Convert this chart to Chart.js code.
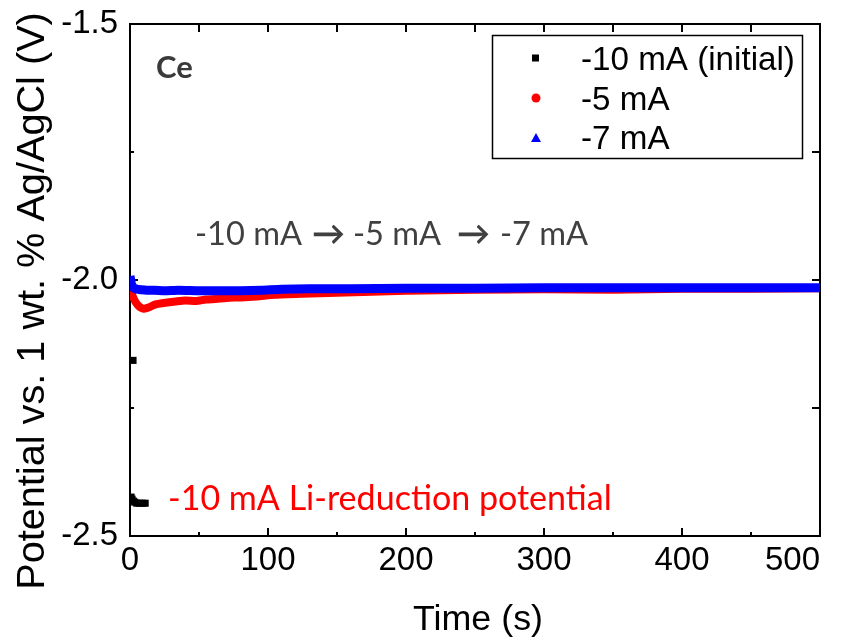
<!DOCTYPE html>
<html>
<head>
<meta charset="utf-8">
<script src="https://cdn.jsdelivr.net/npm/chart.js@4.4.1/dist/chart.umd.min.js"></script>
<style>
  html, body { margin: 0; padding: 0; background: #fff; }
</style>
</head>
<body>
<canvas id="chart" width="851" height="638"></canvas>
<script>
// axis ticks
const xTicks = [0, 100, 200, 300, 400, 500];
const xMinor = [50, 150, 250, 350, 450];
const yTicks = [-2.5, -2.0, -1.5];
const yMinor = [-2.25, -1.75];

const seriesNames = ["-10 mA (initial)", "-5 mA", "-7 mA"];

// -10 mA (initial)
const initTime = [0.8, 1.5, 2.2, 2.5, 3.5, 5, 7, 9, 11];
const initVolt = [-2.424, -2.428, -2.157, -2.432, -2.434, -2.436, -2.436, -2.436, -2.436];

// -5 mA
const time5 = [0, 1, 2, 4, 6, 8, 10, 12, 15, 18, 22, 27, 33, 40, 48, 55, 62, 70, 80, 92, 105, 125, 150, 175, 200, 250, 300, 350, 400, 450, 500];
const volt5 = [-2.012, -2.022, -2.032, -2.043, -2.050, -2.054, -2.056, -2.055, -2.052, -2.048, -2.046, -2.044, -2.042, -2.040, -2.041, -2.038, -2.037, -2.035, -2.034, -2.032, -2.029, -2.027, -2.025, -2.023, -2.021, -2.019, -2.018, -2.019, -2.017, -2.017, -2.016];

// -7 mA
const time7 = [0, 0.5, 1, 2, 3, 5, 8, 12, 18, 25, 35, 50, 65, 80, 95, 110, 130, 160, 200, 250, 300, 350, 400, 450, 500];
const volt7 = [-1.992, -2.000, -2.008, -2.013, -2.016, -2.018, -2.019, -2.020, -2.020, -2.021, -2.020, -2.021, -2.021, -2.021, -2.020, -2.018, -2.017, -2.017, -2.016, -2.016, -2.015, -2.015, -2.015, -2.015, -2.015];

const pts = (xs, ys) => xs.map((x, i) => ({ x, y: ys[i] }));

// shrink/grow a font so a string fills a given width
function fitFont(ctx, text, weight, family, nominal, width) {
  ctx.font = weight + " " + nominal + "px " + family;
  const w = ctx.measureText(text).width;
  const size = nominal * width / w;
  ctx.font = weight + " " + size.toFixed(2) + "px " + family;
}

/* frame, inward ticks, legend and notes */
const decor = {
  id: "decor",
  beforeDatasetsDraw(chart) {
    const { ctx, chartArea: a, scales } = chart;
    const xs = scales.x, ys = scales.y;
    ctx.save();
    ctx.strokeStyle = "#000";
    ctx.lineWidth = 2;
    ctx.strokeRect(a.left, a.top, a.right - a.left, a.bottom - a.top);
    ctx.beginPath();
    xTicks.forEach((v) => {
      const p = xs.getPixelForValue(v);
      ctx.moveTo(p, a.bottom); ctx.lineTo(p, a.bottom - 8);
      ctx.moveTo(p, a.top); ctx.lineTo(p, a.top + 8);
    });
    xMinor.forEach((v) => {
      const p = xs.getPixelForValue(v);
      ctx.moveTo(p, a.bottom); ctx.lineTo(p, a.bottom - 4);
      ctx.moveTo(p, a.top); ctx.lineTo(p, a.top + 8);
    });
    yTicks.forEach((v) => {
      const p = ys.getPixelForValue(v);
      ctx.moveTo(a.left, p); ctx.lineTo(a.left + 8, p);
      ctx.moveTo(a.right, p); ctx.lineTo(a.right - 8, p);
    });
    yMinor.forEach((v) => {
      const p = ys.getPixelForValue(v);
      ctx.moveTo(a.left, p); ctx.lineTo(a.left + 4, p);
      ctx.moveTo(a.right, p); ctx.lineTo(a.right - 8, p);
    });
    ctx.stroke();
    ctx.restore();
  },
  afterDraw(chart) {
    const { ctx } = chart;
    const ds = chart.data.datasets;
    ctx.save();

    // legend box
    ctx.strokeStyle = "#000";
    ctx.lineWidth = 1.5;
    ctx.strokeRect(492.5, 35.5, 310, 123);
    const rows = [70, 110, 149];
    const mid = [58, 98, 138];
    ctx.fillStyle = ds[0].backgroundColor;
    ctx.fillRect(532, mid[0] - 3.5, 7, 7);
    ctx.fillStyle = ds[1].borderColor;
    ctx.beginPath(); ctx.arc(536, mid[1], 4.5, 0, Math.PI * 2); ctx.fill();
    ctx.fillStyle = ds[2].borderColor;
    ctx.beginPath();
    ctx.moveTo(536, mid[2] - 5); ctx.lineTo(541, mid[2] + 4); ctx.lineTo(531, mid[2] + 4);
    ctx.closePath(); ctx.fill();
    ctx.fillStyle = "#000";
    ctx.textAlign = "left";
    ctx.textBaseline = "alphabetic";
    fitFont(ctx, seriesNames[0], "normal", "'Liberation Sans', Arial, sans-serif", 32, 214);
    seriesNames.forEach((n, i) => ctx.fillText(n, 581, rows[i]));

    // notes
    ctx.fillStyle = "#3a3a3a";
    ctx.font = "bold 31px Lato, 'Open Sans', sans-serif";
    ctx.fillText("Ce", 156, 78);

    // -10 mA -> -5 mA -> -7 mA, piece by piece
    ctx.fillStyle = "#404040";
    const pieces = [["-10 mA", 195], ["-5 mA", 353], ["-7 mA", 500]];
    fitFont(ctx, "-10 mA", "normal", "Lato, 'Open Sans', sans-serif", 28, 107);
    pieces.forEach(([t, x]) => ctx.fillText(t, x, 245));
    fitFont(ctx, "\u2192", "bold", "Lato, 'DejaVu Sans', sans-serif", 28, 33);
    ctx.fillText("\u2192", 312, 245);
    ctx.fillText("\u2192", 457, 245);

    const redText = "-10 mA Li-reduction potential";
    ctx.fillStyle = "#ff0000";
    fitFont(ctx, redText, "normal", "Lato, 'Open Sans', sans-serif", 28, 444);
    ctx.fillText(redText, 168, 510);

    // axis titles
    ctx.fillStyle = "#000";
    ctx.textAlign = "center";
    const xTitle = "Time (s)";
    fitFont(ctx, xTitle, "normal", "'Liberation Sans', Arial, sans-serif", 35, 130);
    ctx.fillText(xTitle, 478, 630);

    const yTitle = "Potential vs. 1 wt. % Ag/AgCl (V)";
    ctx.translate(44, 301);
    ctx.rotate(-Math.PI / 2);
    fitFont(ctx, yTitle, "normal", "'Liberation Sans', Arial, sans-serif", 38, 578);
    ctx.fillText(yTitle, 0, 0);
    ctx.restore();
  },
};

const tickFont = { family: "'Liberation Sans', Arial, sans-serif", size: 33 };

new Chart(document.getElementById("chart"), {
  type: "scatter",
  data: {
    datasets: [
      {
        label: seriesNames[0],
        data: pts(initTime, initVolt),
        backgroundColor: "#000000",
        borderColor: "#000000",
        pointStyle: "rect",
        pointRadius: 5,
        pointBorderWidth: 0,
        showLine: false,
        order: 0,
      },
      {
        label: seriesNames[1],
        data: pts(time5, volt5),
        borderColor: "#ff0000",
        backgroundColor: "#ff0000",
        borderWidth: 8,
        pointRadius: 0,
        showLine: true,
        tension: 0.2,
        borderJoinStyle: "round",
        clip: 0,
        order: 2,
      },
      {
        label: seriesNames[2],
        data: pts(time7, volt7),
        borderColor: "#0000ff",
        backgroundColor: "#0000ff",
        borderWidth: 9,
        pointRadius: 0,
        showLine: true,
        tension: 0.2,
        borderJoinStyle: "round",
        clip: 0,
        order: 1,
      },
    ],
  },
  options: {
    responsive: false,
    animation: false,
    devicePixelRatio: 1,
    layout: { padding: { top: 24, right: 31, left: 0, bottom: 0 } },
    plugins: { legend: { display: false }, tooltip: { enabled: false } },
    scales: {
      x: {
        type: "linear",
        min: 0,
        max: 500,
        afterBuildTicks: (s) => { s.ticks = xTicks.map((v) => ({ value: v })); },
        afterFit: (s) => { s.height = 102; s.paddingLeft = 0; s.paddingRight = 0; },
        grid: { display: false, drawTicks: false },
        border: { display: false },
        ticks: {
          font: tickFont,
          color: "#000",
          padding: 5,
          maxRotation: 0,
          // last label sits inside the right edge, as in the original
          callback: (v) => (v === 500 ? "500\u2007\u2007\u2007" : String(v)),
        },
      },
      y: {
        type: "linear",
        min: -2.5,
        max: -1.5,
        afterBuildTicks: (s) => { s.ticks = yTicks.map((v) => ({ value: v })); },
        afterFit: (s) => { s.width = 130; s.paddingTop = 0; s.paddingBottom = 0; },
        grid: { display: false, drawTicks: false },
        border: { display: false },
        ticks: { font: tickFont, color: "#000", padding: 12, callback: (v) => v.toFixed(1) },
      },
    },
  },
  plugins: [decor],
});
</script>
</body>
</html>
